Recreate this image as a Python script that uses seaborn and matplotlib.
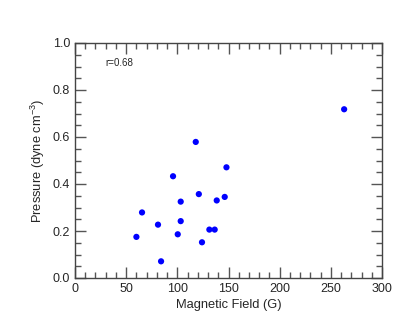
import numpy as np
import matplotlib
matplotlib.use("Agg")
import matplotlib.pyplot as plt
import seaborn as sns
from matplotlib.ticker import MultipleLocator

sns.set_style("ticks")
plt.rcParams['font.family'] = ['Liberation Sans', 'DejaVu Sans']
plt.rcParams['mathtext.fontset'] = 'custom'
plt.rcParams['mathtext.rm'] = 'Liberation Sans'
plt.rcParams['mathtext.it'] = 'Liberation Sans'
plt.rcParams['mathtext.default'] = 'regular'

# Data
field = [263, 118, 148, 95.8, 121, 103.3, 138.5, 146.3, 65.5, 81.1,
         103.3, 131.3, 136.5, 60, 100.4, 124.1, 84.1]
pressure = [0.718, 0.579, 0.471, 0.433, 0.357, 0.325, 0.330, 0.345, 0.279, 0.227,
            0.242, 0.206, 0.206, 0.175, 0.186, 0.152, 0.071]

fig = plt.figure(figsize=(4.15, 3.32), dpi=100)
ax = fig.add_axes([75 / 415, 1 - 278 / 332, 307 / 415, 235 / 332])

sns.scatterplot(x=field, y=pressure, ax=ax, color="#0000ff", s=20,
                edgecolor="none", legend=False)

ax.set_xlim(0, 300)
ax.set_ylim(0, 1.0)
ax.xaxis.set_major_locator(MultipleLocator(50))
ax.xaxis.set_minor_locator(MultipleLocator(10))
ax.yaxis.set_major_locator(MultipleLocator(0.2))
ax.yaxis.set_minor_locator(MultipleLocator(0.05))
ax.yaxis.set_major_formatter(plt.FormatStrFormatter("%.1f"))
ax.tick_params(which="both", direction="in", top=True, right=True,
               color="#555555", labelsize=9)
ax.tick_params(which="major", length=8, width=1)
ax.tick_params(which="minor", length=4, width=1)
for sp in ax.spines.values():
    sp.set_color("#444444")
    sp.set_linewidth(1)

ax.set_xlabel("Magnetic Field (G)", fontsize=9.3, labelpad=3)
ax.set_ylabel("Pressure (dyne cm$^{-3}$)", fontsize=9.3, labelpad=4)
ax.text(30, 0.915, "r=0.68", fontsize=7, ha="left", va="center")

fig.savefig("out.png", dpi=100)
